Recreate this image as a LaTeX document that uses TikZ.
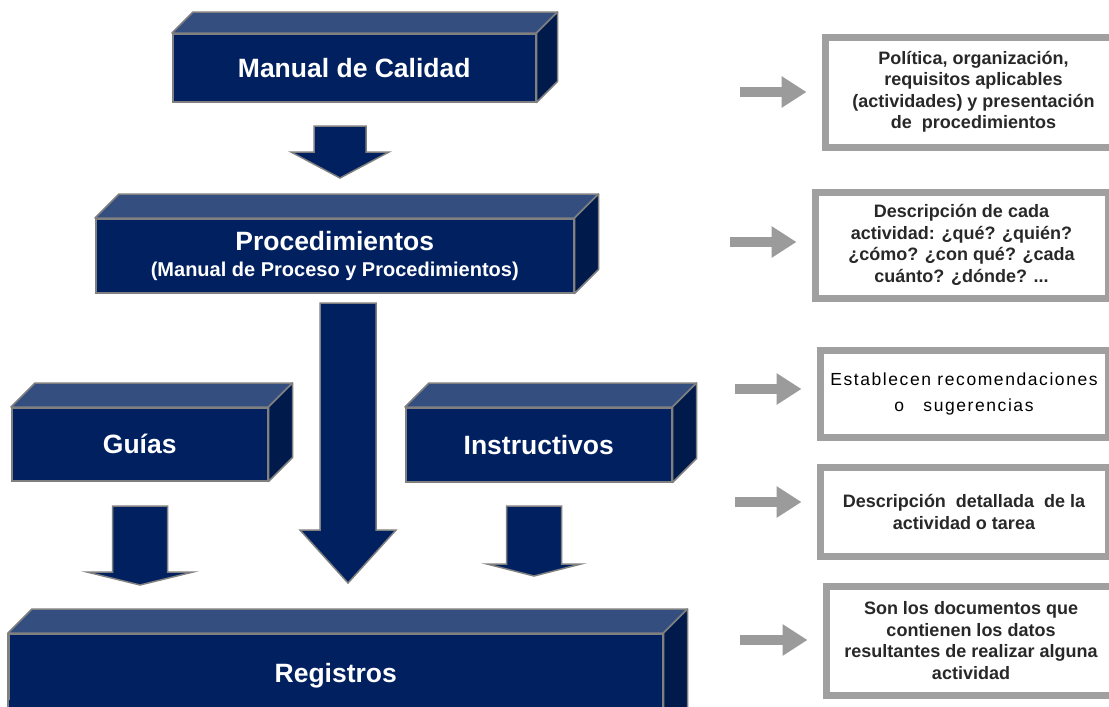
\documentclass[tikz,border=0pt]{standalone}
\usepackage{fontspec}
\setmainfont{Liberation Sans}
\newfontfamily\spacedfont[LetterSpace=9]{Liberation Sans}
\usetikzlibrary{arrows.meta}
\definecolor{navyfront}{RGB}{0,32,96}
\definecolor{navytop}{RGB}{52,78,128}
\definecolor{navyside}{RGB}{0,26,76}
\definecolor{edgegray}{RGB}{128,128,128}
\definecolor{boxgray}{RGB}{160,160,160}
\definecolor{arrgray}{RGB}{155,155,155}
\definecolor{txtgray}{RGB}{40,40,40}
\tikzset{
  front/.style={draw=edgegray, line width=1.5pt, fill=navyfront, text=white,
    font=\bfseries\fontsize{26.5}{30}\selectfont, inner sep=0pt, anchor=north west, align=center},
  topface/.style={draw=edgegray, line width=1.5pt, fill=navytop, line join=round},
  sideface/.style={draw=edgegray, line width=1.5pt, fill=navyside, line join=round},
  navyarrow/.style={draw=edgegray, line width=1.5pt, fill=navyfront, line join=miter},
  rbox/.style={draw=boxgray, line width=7pt, fill=white, text=txtgray, inner sep=0pt,
    anchor=north west, align=center, font=\bfseries\fontsize{18}{21.5}\selectfont},
  grayarr/.style={draw=arrgray, line width=10pt, -{Triangle[width=30pt,length=25pt]}, shorten >=15pt}
}
\newcommand\cubefaces[2]{% node name, depth
  \path[topface] (#1.north west) -- ++(#2,-#2) -- ([shift={(#2,-#2)}]#1.north east) -- (#1.north east) -- cycle;
  \path[sideface] (#1.north east) -- ++(#2,-#2) -- ([shift={(#2,-#2)}]#1.south east) -- (#1.south east) -- cycle;
}
\newcommand\blockarrow[6]{% cx, ytop, half shaft, ybase, half head, ytip
  \path[navyarrow] ({#1-#3},#2) -- ({#1+#3},#2) -- ({#1+#3},#4) -- ({#1+#5},#4) -- (#1,#6)
    -- ({#1-#5},#4) -- ({#1-#3},#4) -- cycle;
}
\begin{document}
\begin{tikzpicture}[x=1pt,y=-1pt]
\useasboundingbox (0,0) rectangle (1109,707);
\clip (0,0) rectangle (1109,707);
\fill[white] (0,0) rectangle (1109,707);

% 3D boxes
\node[front, minimum width=363pt, minimum height=68pt] (mc) at (172,33) {Manual de Calidad};
\cubefaces{mc}{21}
\node[front, minimum width=478pt, minimum height=74pt] (proc) at (95,218)
  {Procedimientos\\[-4pt]{\fontsize{20}{23}\selectfont (Manual de Proceso y Procedimientos)}};
\cubefaces{proc}{24}
\node[front, minimum width=256pt, minimum height=73pt] (guias) at (11,407) {Guías};
\cubefaces{guias}{24}
\node[front, minimum width=266pt, minimum height=74pt] (instr) at (405,407) {Instructivos};
\cubefaces{instr}{24}
\node[front, minimum width=654pt, minimum height=78pt, text depth=0pt] (reg) at (8,633) {Registros};
\path[topface] (reg.north west) -- ++(24,-24) -- ([shift={(24,-24)}]reg.north east) -- (reg.north east) -- cycle;
\path[sideface] (reg.north east) -- ++(24,-24) -- ++(0,100) -- ++(-24,24) -- cycle;
\path[draw=navyfront, fill=navyfront] (8.75,700) rectangle (661.25,720);
\draw[edgegray, line width=1.5pt] (8,633) -- (8,720);

% block arrows
\blockarrow{340}{126}{26}{152}{49}{178}
\blockarrow{348}{303}{28}{530}{48}{583}
\blockarrow{140}{506}{27.5}{572}{53}{585}
\blockarrow{534}{506}{27.5}{564}{47}{576}

% right boxes
\node[rbox, minimum width=297pt, minimum height=110pt] (r1) at (821.5,33.5)
  {Política, organización,\\requisitos aplicables\\(actividades) y presentación\\de\ \ procedimientos};
\node[rbox, minimum width=293pt, minimum height=106pt] (r2) at (811.5,188.5)
  {Descripción de cada\\actividad: ¿qué? ¿quién?\\¿cómo? ¿con qué? ¿cada\\cuánto? ¿dónde? ...};
\node[rbox, minimum width=288pt, minimum height=87pt, font=\spacedfont\fontsize{17.5}{26}\selectfont, text=black] (r3) at (816.5,346.5)
  {Establecen recomendaciones\\o\ \ \ sugerencias};
\node[rbox, minimum width=288pt, minimum height=89pt, font=\bfseries\fontsize{18}{22}\selectfont] (r4) at (816.5,463.5)
  {Descripción\ \ detallada\ \ de la\\actividad o tarea};
\node[rbox, minimum width=290pt, minimum height=109pt] (r5) at (822.5,582.5)
  {Son los documentos que\\contienen los datos\\resultantes de realizar alguna\\actividad};

% gray arrows
\coordinate (a1) at (740,92);
\coordinate (a2) at (730,242);
\coordinate (a3) at (735,389);
\coordinate (a4) at (735,502);
\coordinate (a5) at (740,640);
\draw[grayarr] (a1) -- (a1 -| r1.west);
\draw[grayarr] (a2) -- (a2 -| r2.west);
\draw[grayarr] (a3) -- (a3 -| r3.west);
\draw[grayarr] (a4) -- (a4 -| r4.west);
\draw[grayarr] (a5) -- (a5 -| r5.west);
\end{tikzpicture}
\end{document}
